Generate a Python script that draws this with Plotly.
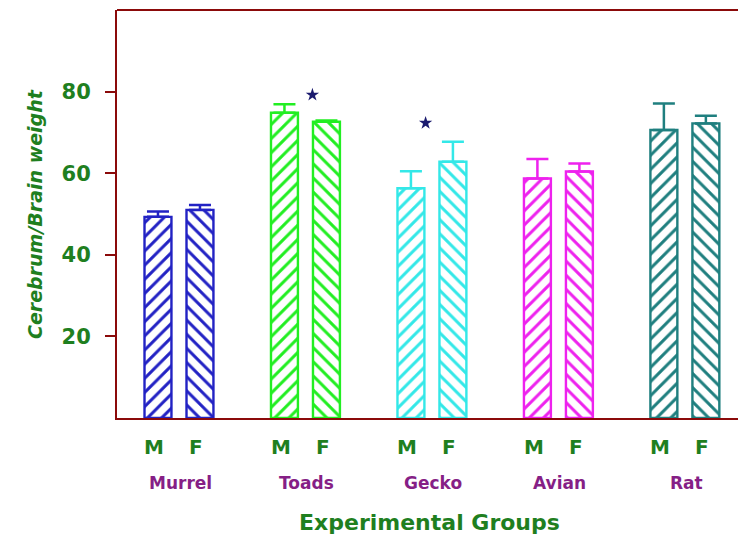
import plotly.graph_objects as go

# Cerebrum / brain weight ratio by group and sex (mean with upper error)
groups = ["Murrel", "Toads", "Gecko", "Avian", "Rat"]
sexes = ["M", "F"]
male_mean = [49.3, 74.8, 56.3, 58.7, 70.6]
female_mean = [51.0, 72.6, 62.8, 60.4, 72.2]
male_err = [1.3, 2.1, 4.2, 4.8, 6.5]
female_err = [1.2, 0.3, 4.9, 2.0, 1.9]
group_colors = ["#2222c4", "#22ee22", "#33e8e8", "#ee22ee", "#1f7f7f"]

# significance markers: (group index, offset from group centre, height)
star_group = [1, 2]
star_offset = [0.055, -0.05]
star_y = [79.2, 72.3]

GREEN = "#1f7f1f"
PURPLE = "#861f86"
AXIS = "#8b0a0a"
FONT = "DejaVu Sans"

offset = 0.166
bar_w = 0.213

fig = go.Figure()
for i, g in enumerate(groups):
    c = group_colors[i]
    fig.add_trace(go.Bar(
        x=[i - offset, i + offset],
        y=[male_mean[i], female_mean[i]],
        width=bar_w,
        marker=dict(
            color="white",
            line=dict(color=c, width=2.4),
            pattern=dict(shape=["/", "\\"], fgcolor=c, bgcolor="white",
                         fgopacity=1, size=10, solidity=0.3,
                         fillmode="overlay"),
        ),
        error_y=dict(type="data", symmetric=False,
                     array=[male_err[i], female_err[i]],
                     arrayminus=[0, 0],
                     color=c, thickness=2.5, width=11),
        name=g,
        showlegend=False,
    ))

fig.add_trace(go.Scatter(
    x=[star_group[k] + star_offset[k] for k in range(len(star_group))],
    y=star_y,
    mode="markers",
    marker=dict(symbol="star", size=10, color="#1a1a6e"),
    showlegend=False,
    hoverinfo="skip",
))

annotations = []
for i, g in enumerate(groups):
    for j, s in enumerate(sexes):
        annotations.append(dict(
            x=i + (offset if j else -offset) - 0.03, xref="x",
            y=0, yref="paper", yanchor="middle", yshift=-29,
            text=f"<b>{s}</b>", showarrow=False,
            font=dict(family=FONT, size=20, color=GREEN),
        ))
    annotations.append(dict(
        x=i + 0.01, xref="x", y=0, yref="paper", yanchor="middle", yshift=-65,
        text=f"<b>{g}</b>", showarrow=False,
        font=dict(family=FONT, size=17, color=PURPLE),
    ))

annotations.append(dict(
    x=0.504, xref="paper", y=0, yref="paper", yanchor="middle", yshift=-104,
    text="<b>Experimental Groups</b>", showarrow=False,
    font=dict(family=FONT, size=22, color=GREEN),
))
annotations.append(dict(
    x=0, xref="paper", xshift=-95, y=0.5, yref="paper",
    text="<b><i>Cerebrum/Brain weight</i></b>", textangle=-90, showarrow=False,
    font=dict(family=FONT, size=19, color=GREEN),
))

fig.update_layout(
    width=738, height=547,
    margin=dict(l=117, r=0, t=10, b=129),
    plot_bgcolor="white", paper_bgcolor="white",
    barmode="overlay",
    annotations=annotations,
    shapes=[dict(type="line", xref="paper", yref="paper", x0=0, x1=1, y0=1, y1=1,
                 line=dict(color=AXIS, width=2))],
)
fig.update_xaxes(range=[-0.49, 4.42], showgrid=False, zeroline=False,
                 showticklabels=False, ticks="",
                 showline=True, linecolor=AXIS, linewidth=2)
fig.update_yaxes(range=[0, 100], tickvals=[20, 40, 60, 80],
                 ticktext=["<b>20</b>", "<b>40</b>", "<b>60</b>", "<b>80</b>"],
                 tickfont=dict(family=FONT, size=21, color=GREEN),
                 ticks="outside", ticklen=10, tickwidth=2, tickcolor=AXIS,
                 ticklabelstandoff=10,
                 showgrid=False, zeroline=False,
                 showline=True, linecolor=AXIS, linewidth=2)

fig.write_html("out.html")
